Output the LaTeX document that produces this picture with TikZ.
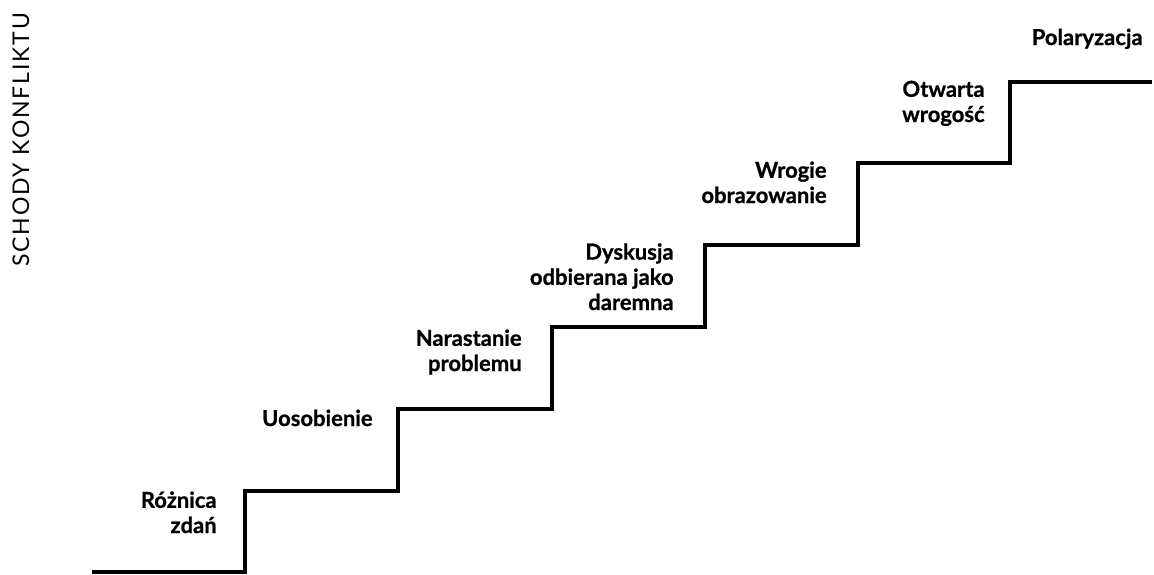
\documentclass[tikz,border=0pt]{standalone}
\usepackage{fontspec}
\setmainfont{Lato}[BoldFeatures={FakeBold=0.8}]
\usepackage{tikz}
\usetikzlibrary{positioning}

\begin{document}
\begin{tikzpicture}[
			x=0.5pt, y=-0.5pt,
			stairs/.style={line width=2.25pt, black},
			stage/.style={anchor=base east, inner sep=0pt, align=right, font=\bfseries\fontsize{11}{12.6}\selectfont},
			title/.style={rotate=90, inner sep=0pt, font=\fontsize{11.5}{13}\selectfont\addfontfeature{LetterSpace=8}}
			]
			
			% Frame of the picture
			\useasboundingbox (0,0) rectangle (1154,574);
			
			% Title along the left edge
			\node[title] (heading) at (21,140) {SCHODY KONFLIKTU};
			
			% The staircase
			\draw[stairs] (92,572) -- (245,572) -- (245,491) -- (398,491) -- (398,409)
				-- (552,409) -- (552,327) -- (705,327) -- (705,245) -- (858,245)
				-- (858,163) -- (1010,163) -- (1010,82) -- (1152,82);
			
			% Stages of the conflict (anchored at the last line)
			\node[stage] (roznica) at (217,533) {Różnica\\zdań};
			\node[stage] (uosobienie) at (373,426) {Uosobienie};
			\node[stage] (narastanie) at (522,371) {Narastanie\\problemu};
			\node[stage] (dyskusja) at (674,310) {Dyskusja\\odbierana jako\\daremna};
			\node[stage] (wrogie) at (827,203) {Wrogie\\obrazowanie};
			\node[stage] (otwarta) at (985,122) {Otwarta\\wrogość};
			\node[stage] (polaryzacja) at (1143,45) {Polaryzacja};
			
		\end{tikzpicture}
\end{document}
